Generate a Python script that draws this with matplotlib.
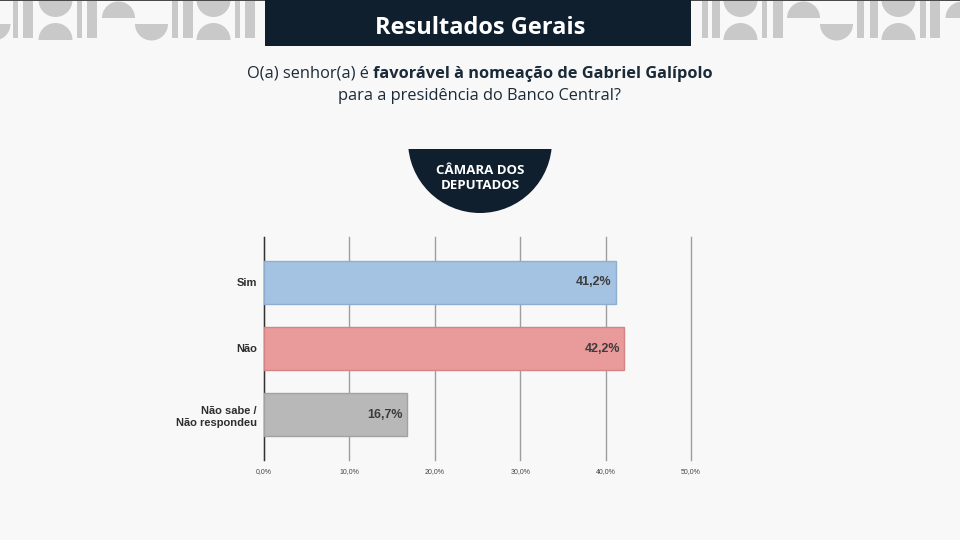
import matplotlib.pyplot as plt
from matplotlib.patches import Rectangle, Wedge

# data
categories = ["Sim", "Não", "Não sabe /\nNão respondeu"]
values = [41.2, 42.2, 16.7]
bar_colors = ["#a4c2e1", "#e99a9b", "#b8b8b8"]
edge_colors = ["#8eaecf", "#d48485", "#a2a2a2"]
x_ticks = [0, 10, 20, 30, 40, 50]
x_tick_labels = ["0,0%", "10,0%", "20,0%", "30,0%", "40,0%", "50,0%"]

title = "Resultados Gerais"
question_plain = "O(a) senhor(a) é"
question_bold = "favorável à nomeação de Gabriel Galípolo"
question_line2 = "para a presidência do Banco Central?"
badge = "CÂMARA DOS\nDEPUTADOS"

BG = "#f8f8f8"
NAVY = "#0f1f2e"
DECO = "#c9c9c9"

fig = plt.figure(figsize=(9.6, 5.4), dpi=100, facecolor=BG)

# background layer in pixel coordinates
bg = fig.add_axes([0, 0, 1, 1], zorder=0)
bg.set_xlim(0, 960)
bg.set_ylim(540, 0)
bg.axis("off")


def bars(x_pairs):
    for x0, x1 in x_pairs:
        bg.add_patch(Rectangle((x0, 0), x1 - x0, 38, color=DECO, lw=0))


def circles(cx, r=17):
    bg.add_patch(Wedge((cx, 0), r, 0, 180, color=DECO, lw=0))
    bg.add_patch(Wedge((cx, 40), r, 180, 360, color=DECO, lw=0))


def dome(cx, r=16.5):
    bg.add_patch(Wedge((cx, 18), r, 180, 360, color=DECO, lw=0))


def bowl(cx, r=16.5):
    bg.add_patch(Wedge((cx, 24), r, 0, 180, color=DECO, lw=0))


# left decoration
bowl(-6)
bars([(13, 18), (23, 33), (77, 82), (87, 97), (172, 178), (183, 193),
      (235, 240), (245, 255)])
circles(55.5)
dome(118.5)
bowl(151.5)
circles(213.5)

# right decoration
bars([(702, 708), (712, 720), (762, 767), (773, 783), (857, 864), (870, 878),
      (920, 926), (930, 940)])
circles(740.5)
dome(803.5)
bowl(836.5)
circles(898.5)
dome(962)

bg.add_patch(Rectangle((0, 0), 960, 1, color="#4a4a4a", lw=0))

# title box
bg.add_patch(Rectangle((265, 0), 426, 46, color=NAVY, lw=0))
bg.text(480, 28, title, color="white", fontsize=17, fontweight="bold",
        family="Open Sans", ha="center", va="center")

# question, first line has a bold part
fig.canvas.draw()
renderer = fig.canvas.get_renderer()
t1 = bg.text(0, 74, question_plain, color="#1a2a38", fontsize=11.8,
             family="Open Sans", ha="left", va="center")
t2 = bg.text(0, 74, question_bold, color="#1a2a38", fontsize=11.8,
             family="Open Sans", fontweight="bold", ha="left", va="center")
w1 = t1.get_window_extent(renderer).width
w2 = t2.get_window_extent(renderer).width
gap = 4.5
start = 480 - (w1 + gap + w2) / 2
t1.set_x(start)
t2.set_x(start + w1 + gap)
bg.text(480, 96, question_line2, color="#1a2a38", fontsize=11.8,
        family="Open Sans", ha="center", va="center")

# badge
bg.add_patch(Wedge((480, 141), 72, 0, 180, color=NAVY, lw=0))
bg.add_patch(Rectangle((408, 141), 144, 8, color=BG, lw=0))
bg.text(480, 178, badge, color="white", fontsize=9.5, fontweight="bold",
        family="Open Sans", ha="center", va="center", linespacing=1.25)

# chart
ax = fig.add_axes([264 / 960, 80 / 540, 427 / 960, 223 / 540], zorder=1)
ax.patch.set_alpha(0)
y_pos = list(range(len(categories)))
ax.barh(y_pos, values, height=0.65, color=bar_colors, edgecolor=edge_colors,
        linewidth=1, zorder=3)
for y, v in zip(y_pos, values):
    ax.text(v - 0.5, y, f"{v:.1f}%".replace(".", ","), ha="right",
            va="center", fontsize=9, fontweight="bold", color="#3c3c3c",
            family="Liberation Sans", zorder=4)

ax.set_xlim(0, 50)
ax.set_ylim(2.68, -0.68)
ax.set_xticks(x_ticks)
ax.set_xticklabels(x_tick_labels, fontsize=5, color="#444444",
                   family="Liberation Sans")
ax.set_yticks(y_pos)
ax.set_yticklabels(categories, fontsize=8, fontweight="bold", color="#2e2e2e",
                   family="Liberation Sans", linespacing=1.3)
ax.tick_params(axis="y", length=0, pad=5)
ax.tick_params(axis="x", length=0, pad=6)
ax.grid(axis="x", color="#9e9e9e", linewidth=1, zorder=0)
for line in ax.get_xgridlines():
    line.set_clip_on(False)
for side in ["top", "right", "bottom"]:
    ax.spines[side].set_visible(False)
ax.spines["left"].set_color("#333333")
ax.spines["left"].set_linewidth(1)

fig.savefig("out.png", dpi=100, facecolor=BG)
